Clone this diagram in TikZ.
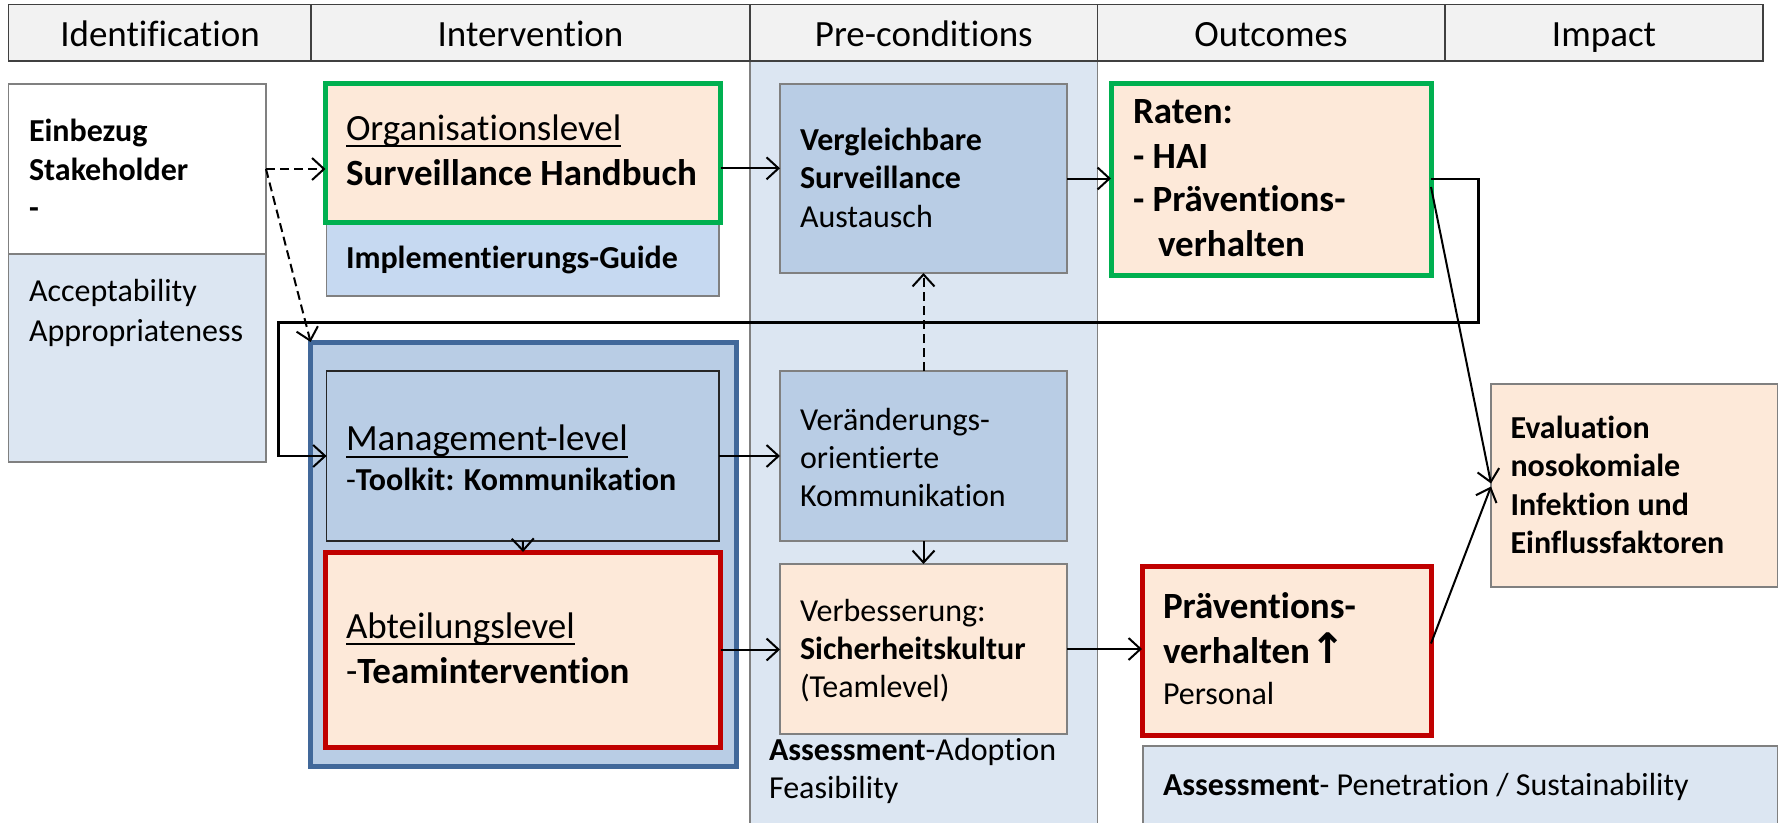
\documentclass[tikz,border=0pt]{standalone}
\usepackage{fontspec}
\setmainfont{Carlito}[Ligatures=NoCommon]
\newfontfamily\symfont{DejaVu Sans}
\usetikzlibrary{arrows.meta}
\definecolor{peach}{HTML}{FDE9D9}
\definecolor{midblue}{HTML}{B9CDE5}
\definecolor{guideblue}{HTML}{C6D9F1}
\definecolor{paleblue}{HTML}{DCE6F2}
\definecolor{hdrgray}{HTML}{F2F2F2}
\definecolor{okgreen}{HTML}{00B050}
\definecolor{alertred}{HTML}{C00000}
\definecolor{frameblue}{HTML}{41689A}
\definecolor{edgegray}{HTML}{808080}
\newcommand\fbig{\fontsize{37}{44}\selectfont}
\newcommand\fmid{\fontsize{32}{38}\selectfont}
\newcommand\myul[1]{\setbox0\hbox{#1}\rlap{\rule[-7pt]{\wd0}{2.2pt}}\box0}
\begin{document}
\begin{tikzpicture}[x=1pt,y=-1pt,
  boxbase/.style={anchor=north west,inner sep=0pt,outer sep=0pt,draw=edgegray,line width=1.5pt},
  hdr/.style={boxbase,fill=hdrgray,draw=black!75,line width=1.4pt,minimum height=56.3pt},
  txt/.style={anchor=base west,inner sep=0pt,outer sep=0pt},
  ctxt/.style={anchor=base,inner sep=0pt,outer sep=0pt},
  arr/.style={line width=2pt,-{Straight Barb[length=12pt,width=22pt,line width=2pt]}},
  darr/.style={arr,dash pattern=on 9pt off 5pt}]
\useasboundingbox (0,0) rectangle (1787,822);
% pre-conditions column background
\node[boxbase,fill=paleblue,draw=edgegray,line width=1.2pt,minimum width=347.6pt,minimum height=800pt] (precol) at (750,61) {};
% header
\node[hdr,minimum width=302.4pt] (hId) at (8.6,4.7) {};
\node[hdr,minimum width=439pt] (hInt) at (311,4.7) {};
\node[hdr,minimum width=347.6pt] (hPre) at (750,4.7) {};
\node[hdr,minimum width=347.4pt] (hOut) at (1097.6,4.7) {};
\node[hdr,minimum width=318pt] (hImp) at (1445,4.7) {};
% identification
\node[boxbase,fill=white,minimum width=257.4pt,minimum height=170pt] (identtop) at (8.6,84) {};
\node[boxbase,fill=paleblue,minimum width=257.4pt,minimum height=208pt] (identbot) at (8.6,254) {};
% intervention
\node[boxbase,fill=guideblue,minimum width=392.4pt,minimum height=74pt] (impl) at (326.6,222) {};
\node[boxbase,fill=peach,draw=okgreen,line width=5pt,minimum width=395pt,minimum height=139pt] (org) at (325.5,83) {};
\node[boxbase,fill=midblue,draw=frameblue,line width=5pt,minimum width=425.4pt,minimum height=424pt] (outer) at (310.6,342) {};
\node[boxbase,fill=midblue,draw=black!85,line width=1.4pt,minimum width=392.4pt,minimum height=170pt] (mgmt) at (326.6,371) {};
\node[boxbase,fill=peach,draw=alertred,line width=5pt,minimum width=395pt,minimum height=195pt] (abt) at (325.5,552) {};
% pre-conditions
\node[boxbase,fill=midblue,minimum width=287pt,minimum height=189pt] (verg) at (780,84) {};
\node[boxbase,fill=midblue,minimum width=287pt,minimum height=170pt] (ver) at (780,371) {};
\node[boxbase,fill=peach,minimum width=287pt,minimum height=170pt] (verb) at (780,564) {};
% outcomes
\node[boxbase,fill=peach,draw=okgreen,line width=5pt,minimum width=320pt,minimum height=192pt] (raten) at (1111,83) {};
\node[boxbase,fill=peach,draw=alertred,line width=5pt,minimum width=289pt,minimum height=169pt] (prae) at (1142,566) {};
\node[boxbase,fill=paleblue,minimum width=634.7pt,minimum height=90pt] (assess) at (1143,746) {};
% impact
\node[boxbase,fill=peach,minimum width=286.7pt,minimum height=203pt] (eval) at (1491,384) {};
% bend coordinates
\coordinate (c1) at (1478.7,322.7);
\coordinate (c2) at (278.4,322.7);
% connectors
\draw[darr] (identtop.east) -- (identtop.east -| org.west);
\draw[darr] (identtop.east) -- (outer.north west);
\draw[arr] ([yshift=-15.8pt]org.east) -- ([yshift=-15.8pt]org.east -| verg.west);
\draw[arr] (verg.east) -- (verg.east -| raten.west);
\draw[arr,line width=2.5pt] (raten.east) -| (c1) -- (c2) |- (mgmt.west);
\draw[arr] ([yshift=-8pt]raten.east) -- ([yshift=2pt]eval.west);
\draw[arr] ([yshift=7pt]prae.east) -- ([yshift=-1pt]eval.west);
\draw[arr] (mgmt.east) -- (mgmt.east -| ver.west);
\draw[arr] (mgmt.south) -- (abt.north);
\draw[darr] (ver.north) -- (verg.south);
\draw[arr] (ver.south) -- (verb.north);
\draw[arr] (abt.east) -- (abt.east -| verb.west);
\draw[arr] (verb.east) -- (verb.east -| prae.west);
% header text
\node[ctxt,font=\fbig] (tId) at (160,46) {Identification};
\node[ctxt,font=\fbig] (tInt) at (530.5,46) {Intervention};
\node[ctxt,font=\fbig] (tPre) at (923.8,46) {Pre-conditions};
\node[ctxt,font=\fbig] (tOut) at (1271,46) {Outcomes};
\node[ctxt,font=\fbig] (tImp) at (1604,46) {Impact};
% identification text
\node[txt,font=\fmid\bfseries] (i1) at (29,141.7) {Einbezug};
\node[txt,font=\fmid\bfseries] (i2) at (29,180.2) {Stakeholder};
\node[txt,font=\fmid\bfseries] (i3) at (29,218.7) {-};
\node[txt,font=\fmid] (i4) at (29,301.7) {Acceptability};
\node[txt,font=\fmid] (i5) at (29,341.7) {Appropriateness};
% intervention text
\node[txt,font=\fbig] (o1) at (346,140) {\myul{Organisationslevel}};
\node[txt,font=\fbig\bfseries] (o2) at (346,185) {Surveillance Handbuch};
\node[txt,font=\fmid\bfseries] (g1) at (346,268) {Implementierungs-Guide};
\node[txt,font=\fbig] (m1) at (346,450.7) {\myul{Management-level}};
\node[txt,font=\fmid] (m2) at (346,490) {-\textbf{Toolkit: Kommunikation}};
\node[txt,font=\fbig] (a1) at (346,638.3) {\myul{Abteilungslevel}};
\node[txt,font=\fbig] (a2) at (346,683.3) {-\textbf{Teamintervention}};
% pre-conditions text
\node[txt,font=\fmid\bfseries] (v1) at (800,150) {Vergleichbare};
\node[txt,font=\fmid\bfseries] (v2) at (800,188.3) {Surveillance};
\node[txt,font=\fmid] (v3) at (800,227.7) {Austausch};
\node[txt,font=\fmid] (k1) at (800,430.7) {Veränderungs-};
\node[txt,font=\fmid] (k2) at (800,468.3) {orientierte};
\node[txt,font=\fmid] (k3) at (800,506.7) {Kommunikation};
\node[txt,font=\fmid] (s1) at (800,621.7) {Verbesserung:};
\node[txt,font=\fmid\bfseries] (s2) at (800,659.3) {Sicherheitskultur};
\node[txt,font=\fmid] (s3) at (800,697.3) {(Teamlevel)};
\node[txt,font=\fmid] (p1) at (769,760) {\textbf{Assessment}-Adoption};
\node[txt,font=\fmid] (p2) at (769,798.3) {Feasibility};
% outcomes text
\node[txt,font=\fbig\bfseries] (r1) at (1133,123.3) {Raten:};
\node[txt,font=\fbig\bfseries] (r2) at (1133,168.3) {- HAI};
\node[txt,font=\fbig\bfseries] (r3) at (1133,211.7) {- Präventions-};
\node[txt,font=\fbig\bfseries] (r4) at (1158,256.7) {verhalten};
\node[txt,font=\fbig\bfseries] (q1) at (1163,618.3) {Präventions-};
\node[txt,font=\fbig\bfseries] (q2) at (1163,663.3) {verhalten{\fontsize{42}{44}\symfont\bfseries ↑}};
\node[txt,font=\fmid] (q3) at (1163,704) {Personal};
\node[txt,font=\fmid] (x1) at (1163,795) {\textbf{Assessment}- Penetration / Sustainability};
% impact text
\node[txt,font=\fmid\bfseries] (e1) at (1510.5,438.3) {Evaluation};
\node[txt,font=\fmid\bfseries] (e2) at (1510.5,476.7) {nosokomiale};
\node[txt,font=\fmid\bfseries] (e3) at (1510.5,515) {Infektion und};
\node[txt,font=\fmid\bfseries] (e4) at (1510.5,553.3) {Einflussfaktoren};
\end{tikzpicture}
\end{document}
